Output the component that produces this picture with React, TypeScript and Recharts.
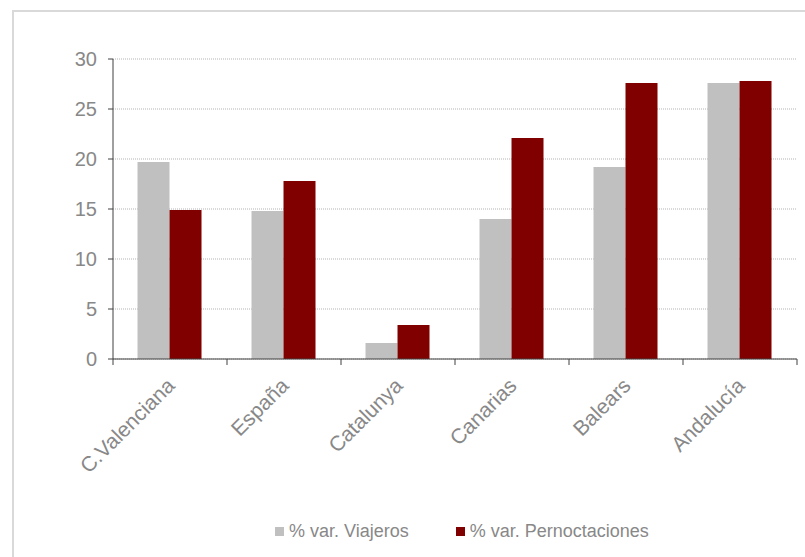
import { BarChart, Bar, XAxis, YAxis, CartesianGrid, Legend } from 'recharts';

const categories = ['C.Valenciana', 'España', 'Catalunya', 'Canarias', 'Balears', 'Andalucía'];
const viajeros = [19.7, 14.8, 1.6, 14.0, 19.2, 27.6];
const pernoctaciones = [14.9, 17.8, 3.4, 22.1, 27.6, 27.8];
const yTicks = [0, 5, 10, 15, 20, 25, 30];
const seriesNames = ['% var. Viajeros', '% var. Pernoctaciones'];
const seriesColors = ['#c0c0c0', '#800000'];

const W = 805;
const H = 557;
const margin = { top: 59, right: 8, left: 0, bottom: 11 };
const yAxisWidth = 113;
const band = (W - margin.left - margin.right - yAxisWidth) / categories.length;

const axisColor = '#404040';
const textColor = '#888888';
const font = '"Liberation Sans", Arial, sans-serif';

const data = categories.map((name, i) => ({
  name,
  viajeros: viajeros[i],
  pernoctaciones: pernoctaciones[i],
}));

const CategoryTick = (props: any) => {
  const { x, y, payload, index } = props;
  const tx = x + 6;
  const ty = y + 28;
  return (
    <g>
      <line x1={x - band / 2} y1={y} x2={x - band / 2} y2={y + 6} stroke={axisColor} />
      {index === categories.length - 1 && (
        <line x1={x + band / 2} y1={y} x2={x + band / 2} y2={y + 6} stroke={axisColor} />
      )}
      <text
        x={tx}
        y={ty}
        transform={`rotate(-45, ${tx}, ${ty})`}
        textAnchor="end"
        fill={textColor}
        fontSize={21}
        fontFamily={font}
      >
        {payload.value}
      </text>
    </g>
  );
};

const LegendContent = () => (
  <div
    style={{
      height: 30,
      display: 'flex',
      alignItems: 'center',
      paddingLeft: 275,
      fontFamily: font,
      fontSize: 18,
      color: textColor,
    }}
  >
    {seriesNames.map((name, i) => (
      <div key={name} style={{ display: 'flex', alignItems: 'center', marginRight: 47 }}>
        <span style={{ width: 9, height: 9, background: seriesColors[i], marginRight: 5 }} />
        <span>{name}</span>
      </div>
    ))}
  </div>
);

export default function App() {
  return (
    <div style={{ position: 'fixed', left: 0, top: 0, width: W, height: H, overflow: 'hidden', background: '#fff' }}>
      <div
        style={{
          position: 'absolute',
          left: 12,
          top: 10,
          width: W,
          height: H,
          borderTop: '2px solid #d9d9d9',
          borderLeft: '2px solid #d9d9d9',
        }}
      />
      <div style={{ position: 'absolute', left: 0, top: 0 }}>
        <BarChart width={W} height={H} data={data} margin={margin} barCategoryGap="21.5%" barGap={0}>
          <CartesianGrid vertical={false} stroke="#b3b3b3" strokeDasharray="1 1" />
          <XAxis
            dataKey="name"
            height={157}
            axisLine={{ stroke: axisColor }}
            tickLine={false}
            tickSize={0}
            tickMargin={0}
            interval={0}
            tick={<CategoryTick />}
          />
          <YAxis
            width={yAxisWidth}
            domain={[0, 30]}
            ticks={yTicks}
            interval={0}
            axisLine={{ stroke: axisColor }}
            tickLine={{ stroke: axisColor }}
            tickSize={5}
            tickMargin={11}
            tick={{ fill: textColor, fontSize: 20, fontFamily: font }}
          />
          <Legend verticalAlign="bottom" content={<LegendContent />} />
          <Bar dataKey="viajeros" name={seriesNames[0]} fill={seriesColors[0]} isAnimationActive={false} />
          <Bar dataKey="pernoctaciones" name={seriesNames[1]} fill={seriesColors[1]} isAnimationActive={false} />
        </BarChart>
      </div>
    </div>
  );
}
